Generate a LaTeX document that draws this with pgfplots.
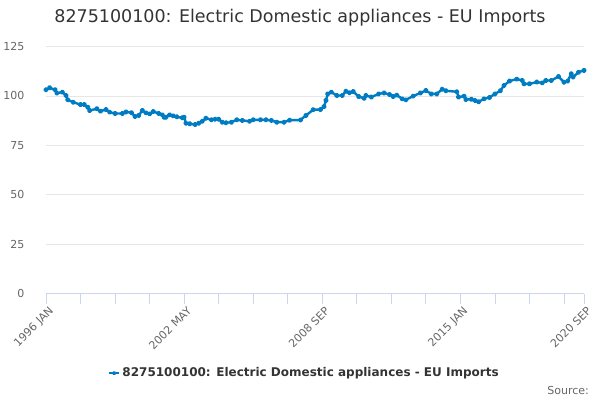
\documentclass[border=0pt]{standalone}
\usepackage{pgfplots}
\pgfplotsset{compat=1.18}
\usepackage{fontspec}
\setmainfont{DejaVu Sans}
\definecolor{serie}{HTML}{007CC3}
\definecolor{axisc}{HTML}{CCD6EB}
\definecolor{gridc}{HTML}{E6E6E6}
\definecolor{labc}{HTML}{666666}
\definecolor{titc}{HTML}{333333}
\begin{document}
\begin{tikzpicture}[x=1pt,y=1pt]
\path[use as bounding box] (0,0) rectangle (600,400);
\begin{axis}[
  at={(46pt,106.5pt)}, anchor=south west,
  scale only axis, width=538pt, height=247pt,
  xmin=0, xmax=296, ymin=0, ymax=125,
  axis x line*=bottom, axis y line*=left,
  y axis line style={draw=none},
  x axis line style={draw=axisc, line width=0.8pt, -},
  xtick={0,76,152,228,296},
  xticklabels={1996 JAN,2002 MAY,2008 SEP,2015 JAN,2020 SEP},
  minor xtick={19,38,57,95,114,133,171,190,209,247,266,285},
  ytick={0,25,50,75,100,125},
  ymajorgrids, grid style={draw=gridc, line width=0.6pt},
  tick align=outside,
  x tick style={draw=axisc, line width=0.8pt},
  minor x tick style={draw=axisc, line width=0.8pt},
  y tick style={draw=none},
  x tick label style={font=\fontsize{11}{13}\selectfont, text=labc, rotate=45, anchor=north east, inner sep=1pt, xshift=1pt, yshift=-2pt},
  y tick label style={font=\fontsize{11}{13}\selectfont, text=labc, xshift=-8pt},
  major tick length=10pt, minor tick length=10pt,
  /pgf/number format/assume math mode=true,
  legend style={at={(0.48,-0.322)}, anchor=center, draw=none, fill=none, font=\bfseries\fontsize{12}{14}\selectfont, text=titc, inner sep=0pt},
  legend image post style={scale=0.6},
]
\addplot[serie, line width=2.4pt, line join=round, mark=*, mark size=1.5pt] coordinates {
(0,103.1)(2,104.1)(5,103.1)(6,101.4)(9,101.9)(11,100.2)(12,98)(15,96.8)(19,95.6)(21,95.6)(23,94.3)(24,92.6)(28,93.5)(30,92.3)(33,93.1)(35,91.8)(38,91.1)(42,91.1)(44,91.9)(47,91.5)(49,89.6)(51,90.1)(53,92.6)(55,91.4)(57,90.9)(59,92.1)(62,91.1)(64,90.4)(65,89.2)(66,89.2)(68,90.4)(70,89.9)(72,89.4)(75,88.9)(76,89.2)(77,86.2)(79,85.9)(82,85.5)(84,86.2)(86,87.2)(88,88.7)(91,87.9)(93,88.2)(95,88.2)(97,86.7)(99,86.4)(102,86.7)(105,87.9)(108,87.6)(112,87.2)(114,87.9)(118,87.9)(121,87.9)(124,87.6)(127,86.7)(131,86.7)(134,87.7)(140,87.8)(143,90.1)(147,93)(151,93.1)(153,94.6)(154,97.7)(155,101)(157,101.9)(160,100.2)(163,100.2)(165,102.4)(167,101.6)(169,102.2)(172,99.7)(175,98.8)(176,100.2)(179,99.4)(183,101)(186,101.5)(189,100.7)(191,99.7)(193,100.4)(196,98.5)(198,98)(202,99.9)(206,101.5)(209,102.7)(212,101)(215,101)(218,103.4)(220,102.6)(226,102.1)(227,99.4)(230,99.9)(231,98.2)(234,98.3)(236,97.7)(238,97)(241,98.5)(244,99.2)(247,101)(250,102.6)(252,105.3)(255,107.5)(259,108.5)(262,107.8)(263,106.1)(266,106.1)(270,107)(273,106.6)(275,107.8)(278,107.8)(282,109.8)(285,106.9)(287,107.5)(289,111.2)(290,109.5)(293,112)(296,112.9)
};
\addlegendentry{8275100100: Electric Domestic appliances - EU Imports}
\end{axis}
\node[font=\fontsize{17.5}{21}\selectfont, text=titc] at (300,382) {8275100100: Electric Domestic appliances - EU Imports};
\node[font=\fontsize{11}{13}\selectfont, text=labc, anchor=east, inner sep=0pt] at (589,10) {Source:};
\end{tikzpicture}
\end{document}
